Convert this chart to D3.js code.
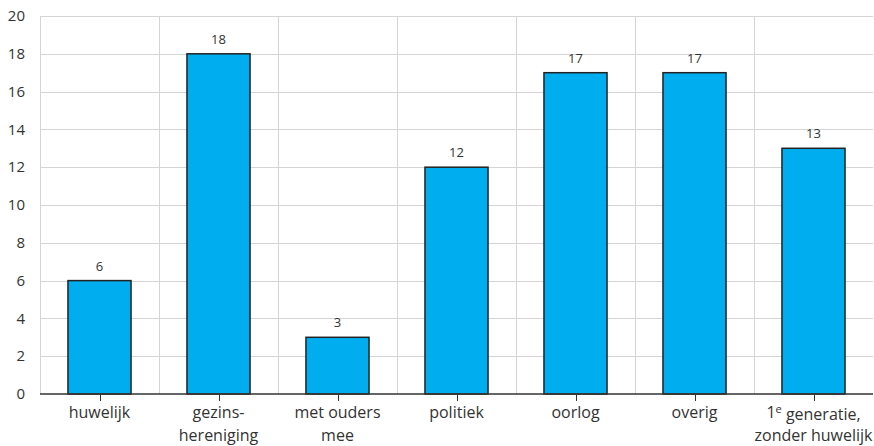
<!DOCTYPE html>
<html><head><meta charset="utf-8">
<script src="https://cdn.jsdelivr.net/npm/d3@7"></script>
<style>body{margin:0;background:#fff}svg{display:block}text{font-family:"Open Sans",sans-serif;fill:#333}</style>
</head><body><svg id="c" width="874" height="446"></svg>
<script>
const categories = [["huwelijk"],["gezins-","hereniging"],["met ouders","mee"],["politiek"],["oorlog"],["overig"],["1e generatie,","zonder huwelijk"]];
const values = [6,18,3,12,17,17,13];
const yTicks = [0,2,4,6,8,10,12,14,16,18,20];

const svg = d3.select("#c");
const m = {l:40, r:1, t:16, b:52};
const W = 874, H = 446;
const x = d3.scaleBand().domain(d3.range(categories.length)).range([m.l, W-m.r]).paddingInner(0).paddingOuter(0);
const y = d3.scaleLinear().domain([0,20]).range([H-m.b, m.t]);

svg.append("g").selectAll("line").data(yTicks.slice(1)).join("line")
  .attr("x1", m.l).attr("x2", W-m.r).attr("y1", d=>Math.round(y(d))+0.5).attr("y2", d=>Math.round(y(d))+0.5)
  .attr("stroke","#d4d4d4").attr("stroke-width",1);
svg.append("g").selectAll("line").data(d3.range(categories.length)).join("line")
  .attr("x1", d=>Math.round(x(d))+0.5).attr("x2", d=>Math.round(x(d))+0.5)
  .attr("y1", y(20)).attr("y2", y(0))
  .attr("stroke","#d4d4d4").attr("stroke-width",1);

svg.append("g").selectAll("text").data(yTicks).join("text")
  .attr("x", 25).attr("y", d=>y(d)).attr("dy","0.35em").attr("text-anchor","end")
  .style("font-size","15px").text(d=>d);

const bw = x.bandwidth()*0.53;
svg.append("g").selectAll("rect").data(values).join("rect")
  .attr("x", (d,i)=>x(i)+x.bandwidth()/2-bw/2).attr("width", bw)
  .attr("y", d=>y(d)).attr("height", d=>y(0)-y(d))
  .attr("fill","#00aeef").attr("stroke","#222").attr("stroke-width",1.5);

svg.append("g").selectAll("text").data(values).join("text")
  .attr("x",(d,i)=>x(i)+x.bandwidth()/2).attr("y", d=>y(d)-10)
  .attr("text-anchor","middle").style("font-size","13px").text(d=>d);

svg.append("line").attr("x1", m.l).attr("x2", W-m.r).attr("y1", y(0)).attr("y2", y(0))
  .attr("stroke","#333").attr("stroke-width",1.5);
svg.append("g").selectAll("line").data(d3.range(categories.length)).join("line")
  .attr("x1", d=>Math.round(x(d)+x.bandwidth()/2)+0.5).attr("x2", d=>Math.round(x(d)+x.bandwidth()/2)+0.5)
  .attr("y1", y(0)).attr("y2", y(0)+7).attr("stroke","#333").attr("stroke-width",1);

const lab = svg.append("g").selectAll("text").data(categories).join("text")
  .attr("text-anchor","middle").style("font-size","16px")
  .attr("transform",(d,i)=>`translate(${x(i)+x.bandwidth()/2},${y(0)+24})`);
lab.each(function(lines){
  const t = d3.select(this);
  lines.forEach((ln,j)=>{
    const ts = t.append("tspan").attr("x",0).attr("y", j*23);
    if (ln.startsWith("1e ")) {
      ts.append("tspan").text("1");
      ts.append("tspan").attr("dy","-0.45em").style("font-size","11px").text("e");
      ts.append("tspan").attr("dy","0.45em").text(" " + ln.slice(3));
    } else ts.text(ln);
  });
});
</script></body></html>
